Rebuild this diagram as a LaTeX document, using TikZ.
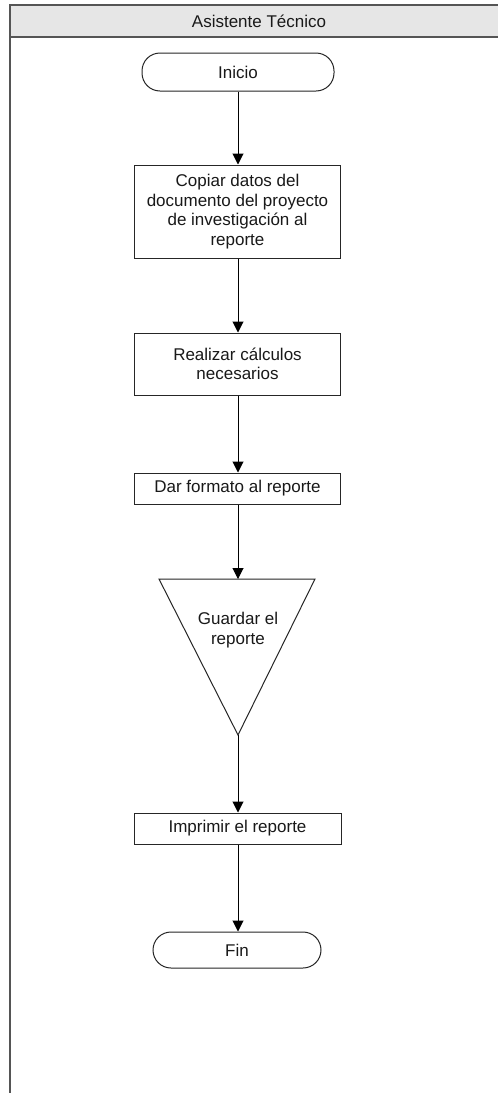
\documentclass[tikz,border=0pt]{standalone}
\usepackage{fontspec}
\setmainfont{Liberation Sans}
\usetikzlibrary{arrows.meta}
\definecolor{framegray}{HTML}{555555}
\definecolor{headfill}{HTML}{E6E6E6}
\tikzset{
  every node/.style={font=\fontsize{17}{19.5}\selectfont, text=black!90},
  procbox/.style={draw=black!85, line width=1pt, fill=white, align=center, inner sep=0pt},
  term/.style={draw=black!85, line width=1pt, fill=white, rounded corners=18pt, inner sep=0pt},
  flow/.style={draw=black, line width=1pt, -{Triangle[width=11pt,length=11pt]}},
  frameline/.style={draw=framegray, line width=1.6pt}
}
\begin{document}
\begin{tikzpicture}[x=1pt,y=-1pt]
\useasboundingbox (0,0) rectangle (498,1093);
% lane header
\fill[headfill] (10,5) rectangle (498,37);
\draw[frameline] (498,5) -- (10,5) -- (10,1093);
\draw[frameline] (10,37) -- (498,37);
\node (lane) at (259,21) {Asistente Técnico};
% nodes
\node[term, minimum width=192pt, minimum height=38pt] (inicio) at (238,72) {Inicio};
\node[procbox, minimum width=206pt, minimum height=93pt] (copiar) at (237.5,211.5) {Copiar datos del\\documento del proyecto\\de investigación al\\reporte};
\node[procbox, minimum width=206pt, minimum height=62pt] (realizar) at (237.5,364) {Realizar cálculos\\necesarios};
\node[procbox, minimum width=206pt, minimum height=31pt] (formato) at (237.5,488.5) {Dar formato al reporte};
\coordinate (tl) at (159,579);
\coordinate (tr) at (315,579);
\coordinate (tb) at (238,735);
\coordinate (ttop) at (238,579);
\draw[black!85, line width=1pt, fill=white] (tl) -- (tr) -- (tb) -- cycle;
\node[align=center] (guardar) at (238,630) {Guardar el\\reporte};
\node[procbox, minimum width=207pt, minimum height=31pt] (imprimir) at (237.5,828.5) {Imprimir el reporte};
\node[term, minimum width=168pt, minimum height=36pt] (fin) at (237,950) {Fin};
% connectors
\draw[flow] (inicio.south -| 238,0) -- (copiar.north -| 238,0);
\draw[flow] (copiar.south -| 238,0) -- (realizar.north -| 238,0);
\draw[flow] (realizar.south -| 238,0) -- (formato.north -| 238,0);
\draw[flow] (formato.south -| 238,0) -- (ttop);
\draw[flow] (tb) -- (imprimir.north -| 238,0);
\draw[flow] (imprimir.south -| 238,0) -- (fin.north -| 238,0);
\end{tikzpicture}
\end{document}
